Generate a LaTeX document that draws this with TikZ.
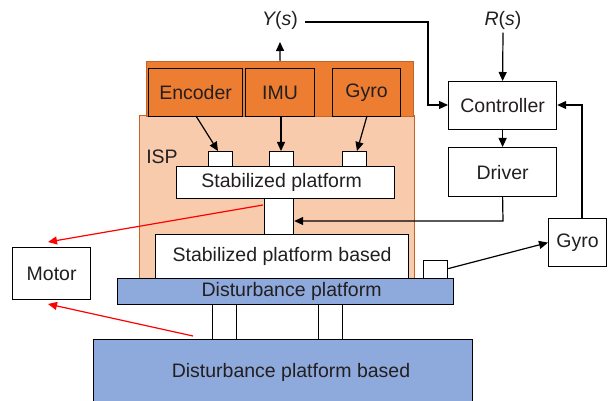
\documentclass[tikz,border=0pt]{standalone}
\usepackage{fontspec}
\setmainfont{Liberation Sans}
\usetikzlibrary{arrows.meta,calc}
\definecolor{orangeA}{HTML}{ED7D31}
\definecolor{orangeB}{HTML}{C0642A}
\definecolor{ispfill}{HTML}{F8CBAD}
\definecolor{blueA}{HTML}{8EA9DB}
\definecolor{txt}{HTML}{231F20}
\begin{document}
\begin{tikzpicture}[x=1pt,y=-1pt,
  font=\fontsize{19.5}{23}\selectfont, text=txt,
  box/.style={draw=black,line width=1.2pt,fill=white,inner sep=0pt,anchor=north west},
  obox/.style={box,fill=orangeA},
  bbox/.style={box,fill=blueA},
  arr/.style={-{Triangle[length=9pt,width=8pt]},line width=1.2pt},
  rarr/.style={-{Triangle[length=9pt,width=8pt]},line width=1.2pt,draw=red}]
\useasboundingbox (0,0) rectangle (608,401);
% ISP region and sensor strip
\fill[ispfill,draw=orangeB,line width=0.8pt] (139,115) rectangle (414,278);
\fill[orangeA,draw=orangeB,line width=0.8pt] (146,61) rectangle (413,116);
\node[anchor=center] (isp) at (162,157) {ISP};
% sensor boxes
\node[obox,minimum width=94pt,minimum height=48pt] (enc) at (148,68) {Encoder};
\node[obox,minimum width=69pt,minimum height=48pt] (imu) at (245,68) {IMU};
\node[obox,minimum width=68pt,minimum height=48pt] (gyro1) at (332,68) {Gyro};
% small mounts
\node[box,minimum width=24pt,minimum height=15pt] (m1) at (208,151) {};
\node[box,minimum width=24pt,minimum height=15pt] (m2) at (269,151) {};
\node[box,minimum width=24pt,minimum height=15pt] (m3) at (342,151) {};
% platforms
\node[box,minimum width=218pt,minimum height=32pt] (sp) at (176,166) {\hspace*{-8pt}Stabilized platform};
\node[box,minimum width=29pt,minimum height=36pt] (stem) at (264,198) {};
\node[box,minimum width=253pt,minimum height=44pt] (spb) at (155,234) {Stabilized platform based};
\node[bbox,minimum width=336pt,minimum height=26pt] (dp) at (117,278) {\hspace*{12pt}Disturbance platform};
\node[box,minimum width=24pt,minimum height=18pt] (m4) at (423,260) {};
\node[box,minimum width=24pt,minimum height=35pt] (leg1) at (212,304) {};
\node[box,minimum width=24pt,minimum height=35pt] (leg2) at (318,304) {};
\node[bbox,minimum width=379pt,minimum height=70pt,anchor=north west] (dpb) at (93,339) {};
\node (dpbt) at (291,372) {Disturbance platform based};
% left
\node[box,minimum width=78pt,minimum height=52pt] (motor) at (12,247) {Motor};
% right side
\node[box,minimum width=108pt,minimum height=48pt] (ctrl) at (448,81) {Controller};
\node[box,minimum width=108pt,minimum height=49pt] (drv) at (448,147) {Driver};
\node[box,minimum width=58pt,minimum height=48pt] (gyro2) at (548,218) {Gyro};
\node[inner sep=0pt] (ys) at (280,20) {$\mathit{Y}$(\textit{s})};
\node (rs) at (503,20) {$\mathit{R}$(\textit{s})};
% connectors
\draw[arr] (imu.north |- 0,61) -- (280,42);
\draw[arr] ($(ys.east |- 0,22)+(7,0)$) -- (428,22) -- (428,105) -- (ctrl.west |- 0,105);
\draw[arr] (rs.south) -- (ctrl.north);
\draw[arr] (ctrl.south) -- (drv.north);
\draw[arr] (drv.south) -- (503,221) -- (stem.east |- 0,221);
\draw[arr] (gyro2.north -| 582,0) -- (582,105) -- (ctrl.east |- 0,105);
\draw[arr] (m4.east) ++(0,-1) -- (gyro2.west);
\draw[arr] (196,116) -- (m1.north -| 218,0);
\draw[arr] (281,116) -- (m2.north -| 281,0);
\draw[arr] (367,116) -- (m3.north -| 357,0);
\coordinate (r1) at (263,205);
\coordinate (r2) at (193,336);
\draw[rarr] (r1) -- (48,242);
\draw[rarr] (r2) -- (48,304);
\end{tikzpicture}
\end{document}
